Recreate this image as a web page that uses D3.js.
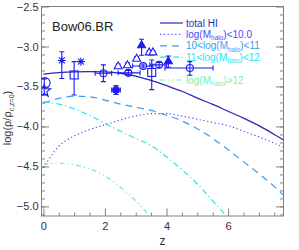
<!DOCTYPE html>
<html>
<head>
<meta charset="utf-8">
<script src="https://cdnjs.cloudflare.com/ajax/libs/d3/7.8.5/d3.min.js"></script>
<style>
body{margin:0;background:#fff;}
svg{display:block;font-family:"Liberation Sans",Arial,sans-serif;}
</style>
</head>
<body>
<script>
var W = 299, H = 250;
var L = 41.5, R = 283.5, T = 6.5, B = 216;

// model curves
var zs = [0,0.5,1,1.5,2,2.5,3,3.5,4,4.5,5,5.5,6,6.5,7,7.5,7.8];
var totalHI = [-3.345,-3.328,-3.318,-3.314,-3.318,-3.335,-3.37,-3.425,-3.49,-3.56,-3.645,-3.725,-3.81,-3.895,-3.99,-4.10,-4.17];
var lt10 = [-4.52,-4.25,-4.12,-4.04,-3.98,-3.92,-3.87,-3.84,-3.84,-3.87,-3.91,-3.95,-3.99,-4.06,-4.13,-4.21,-4.26];
var m10to11 = [-3.71,-3.65,-3.62,-3.63,-3.67,-3.72,-3.76,-3.80,-3.86,-3.93,-4.03,-4.15,-4.29,-4.44,-4.59,-4.75,-4.86];
var zs11 = [0,0.5,1,1.5,2,2.5,3,3.5,4,4.5,5,5.5,5.95];
var m11to12 = [-3.69,-3.72,-3.78,-3.86,-3.96,-4.06,-4.15,-4.24,-4.38,-4.54,-4.72,-4.93,-5.12];
var zs12 = [0,0.5,1,1.5,2,2.5,3,3.5];
var gt12 = [-4.47,-4.46,-4.48,-4.53,-4.62,-4.76,-4.93,-5.14];

// observations
var obsSym = ["circle","star","asterisk","asterisk","square","ocircle","fcircle","tri","tri","tri","tri","tri","ftri","ftri","ocircle","ocircle","ocircle","ocircle","square"];
var obsZ   = [0.05,0.03,0.6,1.22,1.0,1.95,2.36,2.43,2.73,3.03,3.44,3.56,3.19,4.06,2.76,3.24,3.76,4.76,3.52];
var obsV   = [-3.455,-3.555,-3.175,-3.19,-3.356,-3.335,-3.544,-3.244,-3.23,-3.15,-3.07,-3.07,-2.98,-3.18,-3.33,-3.244,-3.23,-3.27,-3.325];
var obsLo  = [null,-3.605,-3.40,null,-3.606,-3.44,-3.60,-3.27,-3.255,-3.175,-3.09,-3.09,-3.11,-3.26,-3.36,-3.27,-3.26,-3.36,-3.54];
var obsHi  = [null,-3.405,-3.065,null,-3.19,-3.23,-3.49,-3.22,-3.205,-3.125,-3.05,-3.05,-2.91,-3.12,-3.30,-3.22,-3.20,-3.19,-3.17];
var obsZlo = [null,null,null,null,null,1.68,2.22,null,null,null,null,null,null,null,2.43,2.90,3.46,3.95,null];
var obsZhi = [null,null,null,null,null,2.22,2.50,null,null,null,null,null,null,null,3.14,3.56,4.00,5.51,null];

// legend
var legNames = ["total HI","log(M|halo|)<10.0","10<log(M|halo|)<11","11<log(M|halo|)<12","","log(M|halo|)>12"];
var legColors = ["#2a2ab8","#4a4aff","#3a9cf0","#22e6f0",null,"#72f2a8"];
var legDash = ["none","1.2,2.6","7,5","6,3,1.2,3",null,"5,3,1.2,3,1.2,3"];

var yTicks = [-2.5,-3.0,-3.5,-4.0,-4.5,-5.0];
var xTicks = [0,2,4,6];

var svg = d3.select("body").append("svg").attr("width", W).attr("height", H);

var x = d3.scaleLinear().domain([-0.06, 7.8]).range([L, R]);
var y = d3.scaleLinear().domain([-5.12, -2.5]).range([B, T]);

var axisCol = "#808080", textCol = "#333";

svg.append("defs").append("clipPath").attr("id","clip")
   .append("rect").attr("x",L).attr("y",T).attr("width",R-L).attr("height",B-T);

// axes
function styleAxis(g){
	g.select(".domain").remove();
	g.selectAll("line").attr("stroke", axisCol);
	g.selectAll("text").attr("fill", textCol).style("font-size","11px");
}
var minorY = d3.range(-5.1, -2.5, 0.1).map(function(d){ return Math.round(d*10)/10; });
var minorX = d3.range(0.5, 7.8, 0.5).filter(function(d){ return d%2 !== 0; });

svg.append("g").attr("transform","translate("+L+",0)")
	.call(d3.axisLeft(y).tickValues(minorY).tickSizeInner(-3.5).tickSizeOuter(0).tickFormat(""))
	.call(styleAxis);
svg.append("g").attr("transform","translate("+L+",0)")
	.call(d3.axisLeft(y).tickValues(yTicks).tickSizeInner(-7.5).tickSizeOuter(0).tickPadding(3).tickFormat(d3.format(".1f")))
	.call(styleAxis);
svg.append("g").attr("transform","translate("+R+",0)")
	.call(d3.axisRight(y).tickValues(minorY).tickSizeInner(-3.5).tickSizeOuter(0).tickFormat(""))
	.call(styleAxis);
svg.append("g").attr("transform","translate("+R+",0)")
	.call(d3.axisRight(y).tickValues(yTicks).tickSizeInner(-7.5).tickSizeOuter(0).tickFormat(""))
	.call(styleAxis);
svg.append("g").attr("transform","translate(0,"+B+")")
	.call(d3.axisBottom(x).tickValues(minorX).tickSizeInner(-3.5).tickSizeOuter(0).tickFormat(""))
	.call(styleAxis);
svg.append("g").attr("transform","translate(0,"+B+")")
	.call(d3.axisBottom(x).tickValues(xTicks).tickSizeInner(-7.5).tickSizeOuter(0).tickPadding(6).tickFormat(d3.format("d")))
	.call(styleAxis);

svg.append("rect").attr("x",L).attr("y",T).attr("width",R-L).attr("height",B-T)
	.attr("fill","none").attr("stroke",axisCol).attr("stroke-width",1);

// axis titles
svg.append("text").attr("x", (L+R)/2).attr("y", 245).attr("text-anchor","middle")
	.attr("fill", textCol).style("font-size","12px").text("z");
var yl = svg.append("text").attr("transform","translate(11,118) rotate(-90)")
	.attr("text-anchor","middle").attr("fill", textCol).style("font-size","11px");
yl.append("tspan").text("log(\u03c1/\u03c1");
yl.append("tspan").attr("dy",3).style("font-size","7px").text("c,z=0");
yl.append("tspan").attr("dy",-3).text(")");

// title
svg.append("text").attr("x",52).attr("y",31).attr("fill","#222")
	.style("font-size","13px").text("Bow06.BR");

// curves
var plot = svg.append("g").attr("clip-path","url(#clip)");
var line = d3.line().x(function(d){ return x(d[0]); }).y(function(d){ return y(d[1]); })
	.curve(d3.curveMonotoneX);
var curves = [
	[zs, totalHI], [zs, lt10], [zs, m10to11], [zs11, m11to12], null, [zs12, gt12]
];
curves.forEach(function(c, i){
	if(!c) return;
	plot.append("path")
		.datum(c[0].map(function(z, j){ return [z, c[1][j]]; }))
		.attr("d", line)
		.attr("fill","none")
		.attr("stroke", legColors[i])
		.attr("stroke-width", i===0 ? 1.3 : 1.2)
		.attr("stroke-dasharray", legDash[i]);
});

// observations
var obsCol = "#1c1cf0";
var pts = plot.append("g").attr("stroke", obsCol).attr("stroke-width",1.1).attr("fill","none");
obsZ.forEach(function(z, i){
	var cx = x(z), cy = y(obsV[i]);
	if(obsLo[i] !== null){
		var y1 = y(obsLo[i]), y2 = y(obsHi[i]);
		pts.append("line").attr("x1",cx).attr("x2",cx).attr("y1",y1).attr("y2",y2);
		pts.append("line").attr("x1",cx-2.5).attr("x2",cx+2.5).attr("y1",y1).attr("y2",y1);
		pts.append("line").attr("x1",cx-2.5).attr("x2",cx+2.5).attr("y1",y2).attr("y2",y2);
	}
	if(obsZlo[i] !== null){
		var x1 = x(obsZlo[i]), x2 = x(obsZhi[i]);
		pts.append("line").attr("x1",x1).attr("x2",x2).attr("y1",cy).attr("y2",cy);
		pts.append("line").attr("x1",x1).attr("x2",x1).attr("y1",cy-2.5).attr("y2",cy+2.5);
		pts.append("line").attr("x1",x2).attr("x2",x2).attr("y1",cy-2.5).attr("y2",cy+2.5);
	}
	var s = obsSym[i];
	if(s === "circle"){
		pts.append("circle").attr("cx",cx).attr("cy",cy).attr("r",5.2);
	}else if(s === "ocircle"){
		pts.append("circle").attr("cx",cx).attr("cy",cy).attr("r",3.5);
	}else if(s === "fcircle"){
		pts.append("circle").attr("cx",cx).attr("cy",cy).attr("r",3.3).attr("fill",obsCol);
	}else if(s === "star"){
		pts.append("path").attr("transform","translate("+cx+","+cy+")")
			.attr("d", d3.symbol(d3.symbolStar, 50)());
	}else if(s === "square"){
		pts.append("rect").attr("x",cx-4).attr("y",cy-4).attr("width",8).attr("height",8);
	}else if(s === "tri" || s === "ftri"){
		pts.append("path").attr("transform","translate("+cx+","+(cy+0.5)+")")
			.attr("d", d3.symbol(d3.symbolTriangle, 28)())
			.attr("fill", s === "ftri" ? obsCol : "#fff");
	}else if(s === "asterisk"){
		var a = 4;
		pts.append("path")
			.attr("d","M"+(cx-a)+","+cy+"H"+(cx+a)+"M"+cx+","+(cy-a)+"V"+(cy+a)+
				"M"+(cx-a*0.75)+","+(cy-a*0.75)+"L"+(cx+a*0.75)+","+(cy+a*0.75)+
				"M"+(cx-a*0.75)+","+(cy+a*0.75)+"L"+(cx+a*0.75)+","+(cy-a*0.75));
	}
});

// legend
var legY0 = 23, legDy = 11.4;
var leg = svg.append("g");
legNames.forEach(function(n, i){
	if(!n) return;
	var yy = legY0 + i*legDy;
	leg.append("line").attr("x1",160).attr("x2",183).attr("y1",yy).attr("y2",yy)
		.attr("stroke", legColors[i]).attr("stroke-width",1.2)
		.attr("stroke-dasharray", legDash[i]);
	var t = leg.append("text").attr("x",186).attr("y",yy+3.5).attr("fill",legColors[i])
		.style("font-size","10px");
	n.split("|").forEach(function(part, k){
		var ts = t.append("tspan").text(part);
		if(k === 1) ts.attr("dy",2.5).style("font-size","6.5px");
		if(k === 2) ts.attr("dy",-2.5);
	});
});
</script>
</body>
</html>
